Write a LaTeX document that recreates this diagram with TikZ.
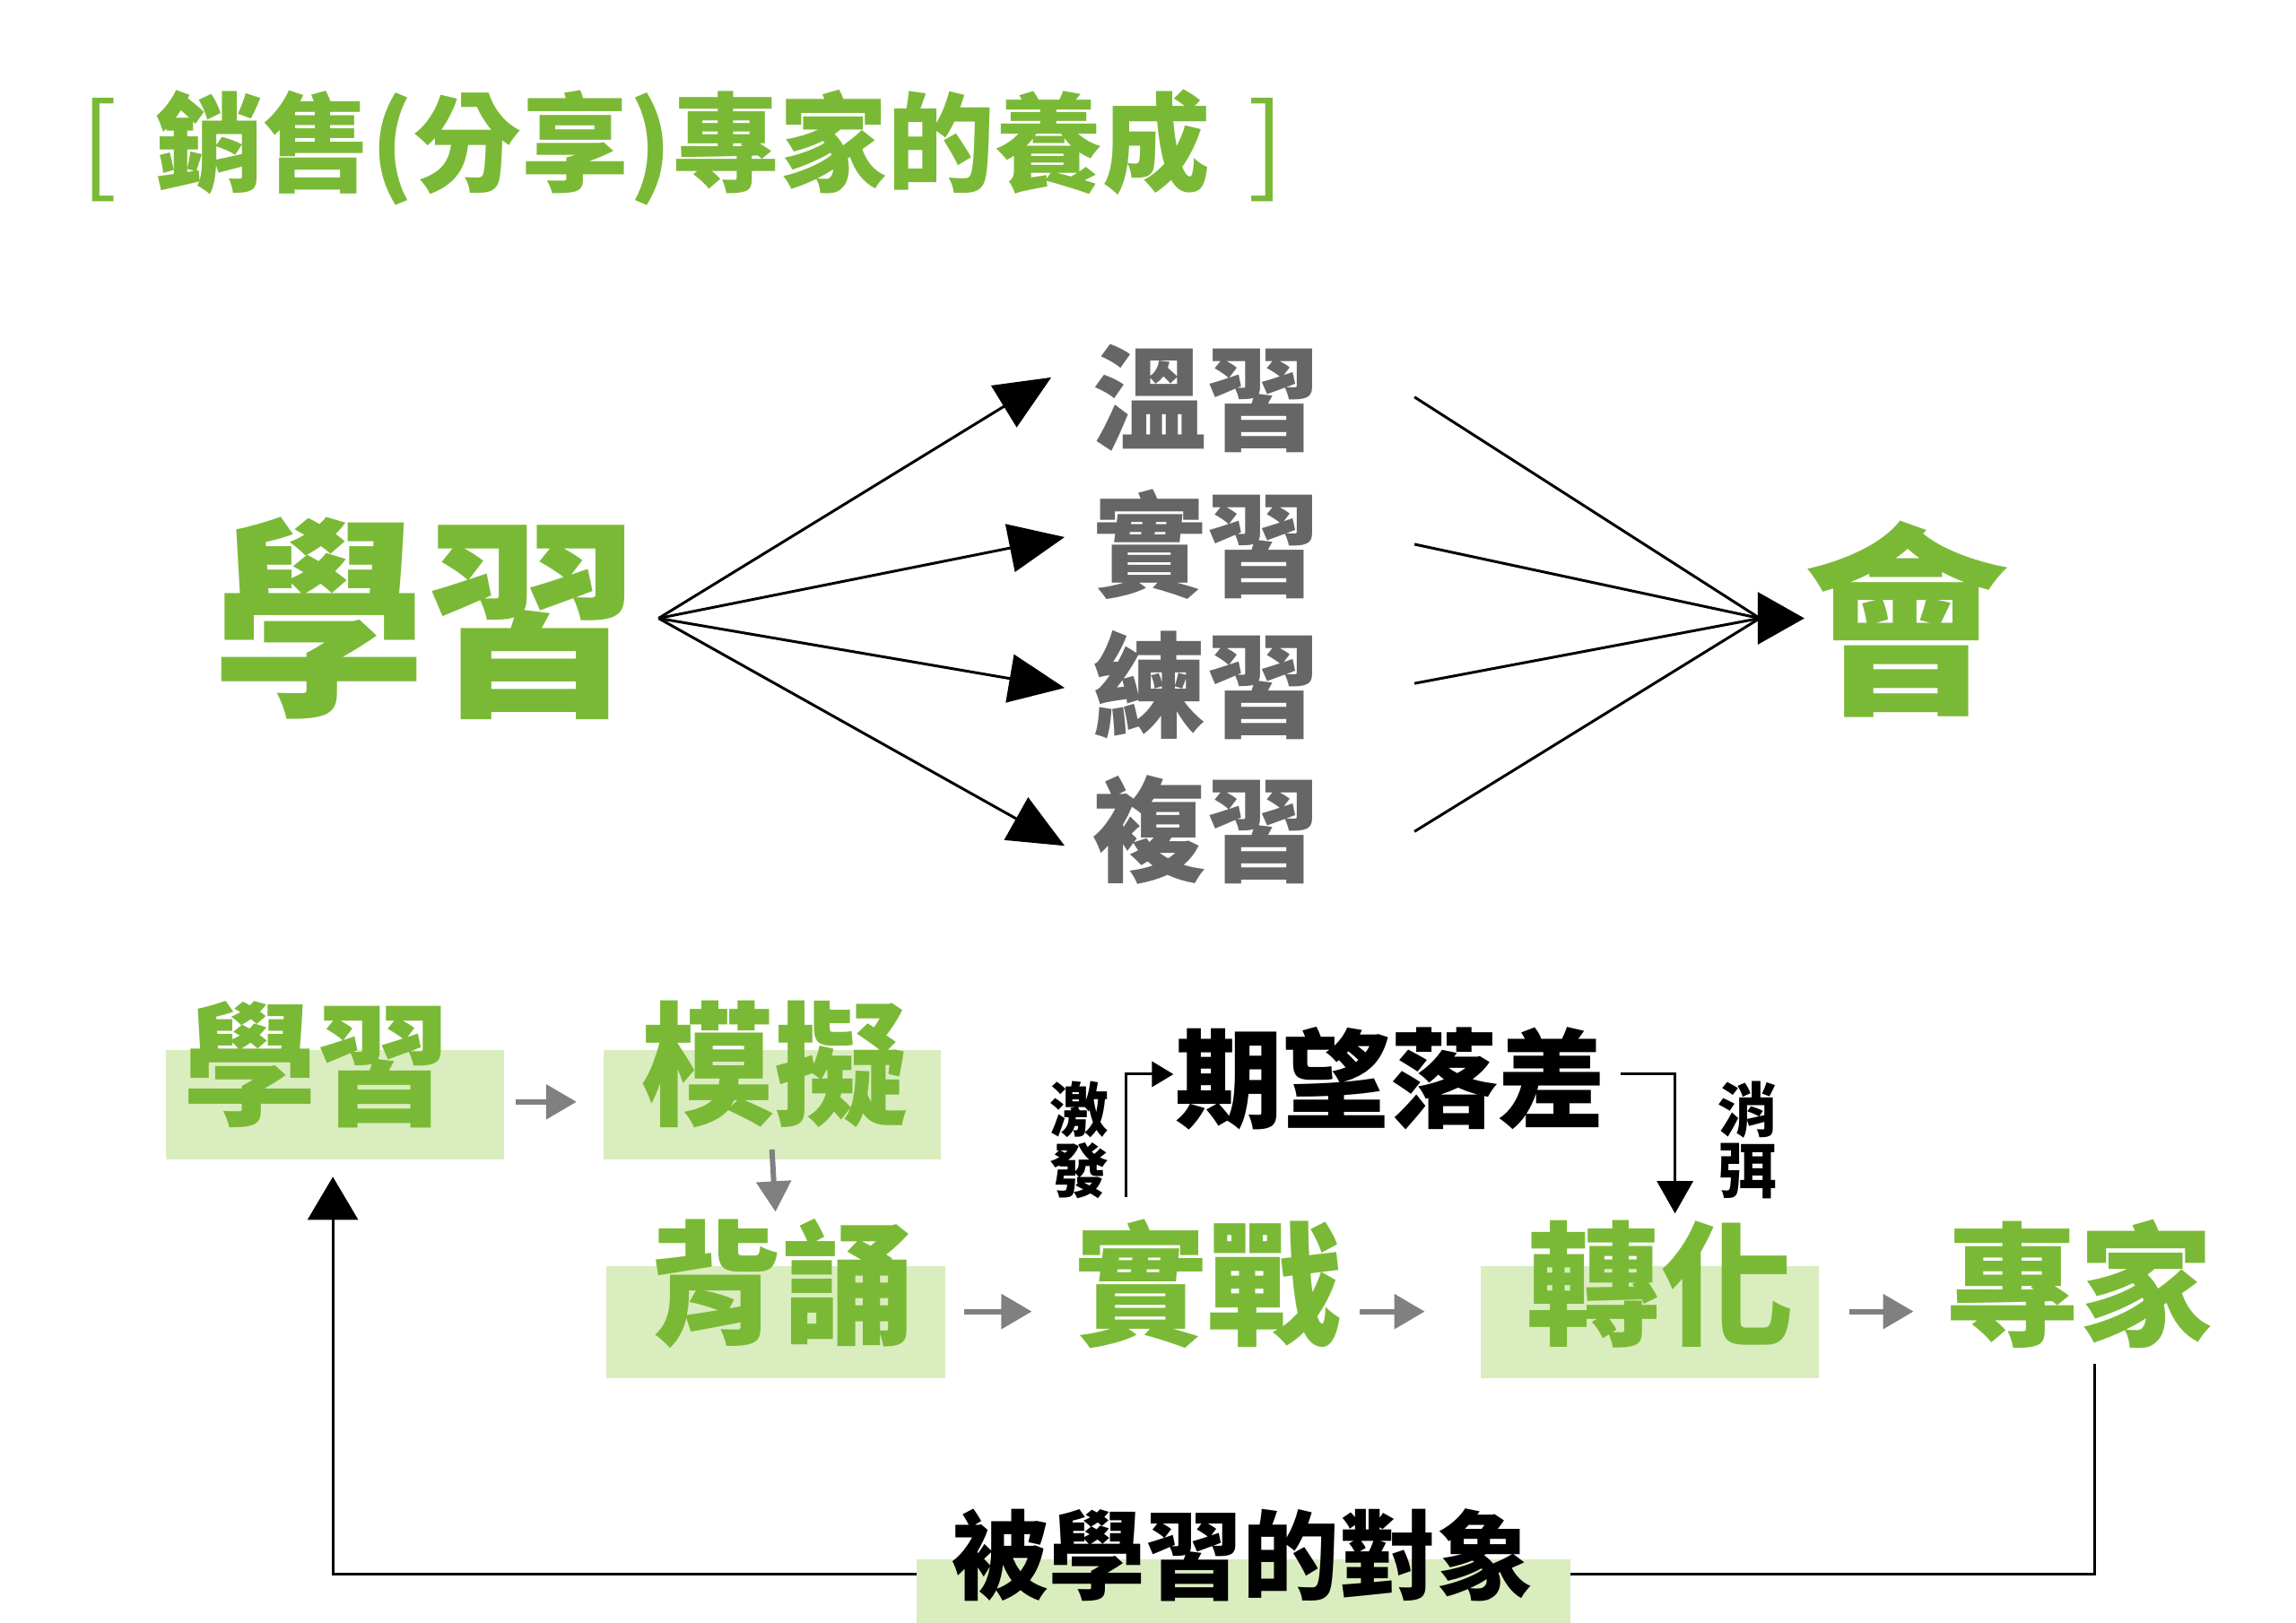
\documentclass[tikz,border=0pt]{standalone}
\usepackage{fontspec}
\newfontfamily\cjk{Noto Sans CJK TC}
\usetikzlibrary{arrows.meta,calc}
\definecolor{lg}{HTML}{7AB936}
\definecolor{lbg}{HTML}{D9EDBF}
\definecolor{gtxt}{HTML}{666666}
\definecolor{garr}{HTML}{808080}
\newcommand\myfs[1]{\fontsize{#1}{#1}\selectfont}
\begin{document}
\begin{tikzpicture}[x=0.995pt,y=-0.995pt,
  every node/.style={inner sep=0pt,outer sep=0pt},
  bigg/.style={text=lg,font=\cjk\bfseries\myfs{238}},
  graytxt/.style={text=gtxt,font=\cjk\bfseries\myfs{127}},
  midg/.style={text=lg,font=\cjk\bfseries\myfs{149}},
  bgbox/.style={fill=lbg,draw=none},
  blk/.style={line width=3pt,draw=black},
  bighead/.style={-{Triangle[length=62,width=54]}},
  grayarr/.style={draw=garr,line width=6pt,-{Triangle[length=34,width=38]}},
]
\useasboundingbox (0,0) rectangle (2572.9,1819.1);

% title
\node[text=lg,font=\cjk\myfs{120}] (title) at (765,165)
  {[\hspace{0.35em}{\bfseries 銷售(分享)專家的養成}\hspace{0.35em}]};

% ---------- top section ----------
\node[bigg] (xue) at (478,693) {學習};
\node[graytxt] (g1) at (1352,447) {溫習};
\node[graytxt] (g2) at (1352,610) {實習};
\node[graytxt] (g3) at (1352,768) {練習};
\node[graytxt] (g4) at (1352,930) {複習};
\node[text=lg,font=\cjk\bfseries\myfs{228}] (hui) at (2136,694) {會};

\coordinate (src) at (738,693);
\coordinate (t1) at (1178,423);
\coordinate (t2) at (1193,602);
\coordinate (t3) at (1193,771);
\coordinate (t4) at (1193,948);
\foreach \t in {t1,t2,t3,t4}
  \draw[blk,bighead] (src) -- (\t);

\coordinate (r1) at (1585,445);
\coordinate (r2) at (1585,610);
\coordinate (r3) at (1585,766);
\coordinate (r4) at (1585,932);
\coordinate (meet) at (1972,693);
\coordinate (huiTip) at (2022,693);
\foreach \r in {r1,r2,r3,r4}
  \draw[blk] (\r) -- (meet);
\draw[blk,-{Triangle[length=52,width=58]}] (meet) -- (huiTip);

% ---------- bottom section ----------
\node[bgbox,minimum width=377,minimum height=122] (b1) at (375,1238) {};
\node[bgbox,minimum width=376,minimum height=122] (b2) at (865,1238) {};
\node[bgbox,minimum width=378,minimum height=125] (b3) at (869,1482) {};
\node[bgbox,minimum width=377,minimum height=125] (b4) at (1849,1482) {};

% feedback loop (drawn under the label box)
\coordinate (fbStart) at (2347,1529);
\coordinate (fbY) at (0,1764);
\coordinate (fbEnd) at (373,1319);
\draw[blk,-{Triangle[length=48,width=56]}] (fbStart) -- (fbStart |- fbY) -- (fbEnd |- fbY) -- (fbEnd);

\node[bgbox,minimum width=729,minimum height=80,anchor=north west] (b5) at (1027,1748) {};

\node[midg] (n1) at (355,1193) {學習};
\node[midg] (n2) at (868,1193) {模擬};
\node[midg] (n3) at (877,1439) {背誦};
\node[midg] (n4) at (1353,1439) {實戰};
\node[midg] (n5) at (1861,1439) {轉化};
\node[midg] (n6) at (2330,1439) {專家};

\node[text=black,font=\cjk\bfseries\myfs{120}] (gap) at (1558,1209) {期望落差};
\node[text=black,font=\cjk\bfseries\fontsize{66}{68}\selectfont,align=center] (jf) at (1210,1278) {激\\發};
\node[text=black,font=\cjk\bfseries\fontsize{66}{68}\selectfont,align=center] (xm) at (1958,1278) {消\\弭};
\node[text=black,font=\cjk\bfseries\myfs{108}] (obj) at (1392,1743) {被學習的對象};

% gray arrows
\draw[grayarr] ($(b1.east)+(13,-3)$) -- ($(b2.west)+(-30,-3)$);
\draw[grayarr] ($(b2.south)+(0,-11)$) -- ($(b3.north)+(0,-61)$);
\draw[grayarr] ($(b3.east)+(21,-12)$) -- ($(n4.west |- b3.east)+(-47,-12)$);
\draw[grayarr] ($(n4.east |- b4.west)+(21,-12)$) -- ($(b4.west)+(-63,-12)$);
\draw[grayarr] ($(b4.east)+(34,-12)$) -- ($(n6.west |- b4.east)+(-36,-12)$);

% expectation-gap connectors
\coordinate (jfBot) at (1262,1342);
\coordinate (jfTip) at (1315,1204);
\draw[blk,-{Triangle[length=24,width=28]}] (jfBot) |- (jfTip);
\coordinate (xmStart) at (1816,1204);
\coordinate (xmTip) at (1877,1360);
\draw[blk,-{Triangle[length=36,width=40]}] (xmStart) -| (xmTip);
\end{tikzpicture}
\end{document}
